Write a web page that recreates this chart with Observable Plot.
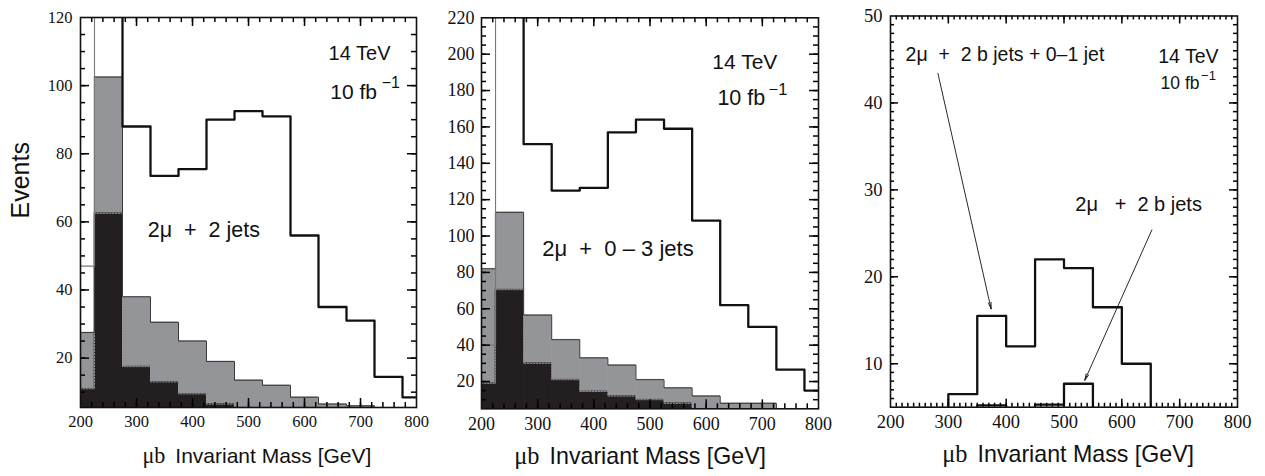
<!DOCTYPE html>
<html><head><meta charset="utf-8">
<script src="https://cdn.jsdelivr.net/npm/d3@7"></script>
<script src="https://cdn.jsdelivr.net/npm/@observablehq/plot@0.6"></script>
<style>
body{margin:0;background:#fff;}
#wrap{position:relative;width:1265px;height:476px;overflow:hidden;background:#fff}
#wrap svg{position:absolute;top:0;overflow:visible}
</style></head><body><div id="wrap"></div>
<script>
// ---------- data ----------
const binEdges = [200,225,275,325,375,425,475,525,575,625,675,725,775,800];
// panel 1: 2mu + 2 jets
const p1Total = [47,140,88,73.5,75.5,90,92.5,91,56,35,31,14.5,8.5];
const p1Gray  = [27.5,102.5,38,30.5,25,19,13.5,12,8.5,6.5,6,0,0];
const p1Black = [11,62.5,17.5,13,9.5,6.5,0,0,0,0,0,0,0];
// panel 2: 2mu + 0-3 jets
const p2Total = [40,260,150.5,125,126.5,157,164,159,108.5,62,50,26.5,15];
const p2Gray  = [82,113,56.5,43,33,29,21,16.5,12,8,8,0,0];
const p2Black = [19,70.5,30,21,14.5,12,10,8,0,0,0,0,0];
// panel 3: b-jet selections
const bEdges = [250,300,350,400,450,500,550,600,650,700];
const p3A = [0,6.5,15.5,12,22,21,16.5,10,0];      // 2mu + 2 b jets + 0-1 jet
const p3B = [0,0,5.2,3,5.3,7.7,0,0,0];            // 2mu + 2 b jets
const xTickLabels = [200,300,400,500,600,700,800];
const p1YTicks = [20,40,60,80,100,120];
const p2YTicks = [20,40,60,80,100,120,140,160,180,200,220];
const p3YTicks = [10,20,30,40,50];
const p3Arrows = [
  {x1:282, y1:43.4, x2:374, y2:16.3},
  {x1:652, y1:25.4, x2:536, y2:8.1}
];

// ---------- helpers ----------
const GRAY = "#939598", BLACK = "#231f20";
const SANS = "Liberation Sans, Arial, sans-serif";
const SERIF = "Liberation Serif, Times New Roman, serif";
const NB = "\u00a0";

function steps(edges, vals) {
  const pts = vals.map((v, i) => ({x: edges[i], y: v}));
  pts.push({x: edges[vals.length], y: vals[vals.length - 1]});
  return pts;
}
function bins(edges, vals) {
  return vals.map((v, i) => ({x1: edges[i], x2: edges[i + 1], y: v}));
}
function histMarks(gray, black) {
  return [
    Plot.rectY(bins(binEdges, gray), {x1: "x1", x2: "x2", y: "y", fill: GRAY, stroke: GRAY, strokeWidth: 0.6, clip: true}),
    Plot.rectY(bins(binEdges, black), {x1: "x1", x2: "x2", y: "y", fill: BLACK, stroke: BLACK, strokeWidth: 0.6, clip: true}),
    Plot.line(steps(binEdges, black), {x: "x", y: "y", curve: "step-after", stroke: "#b0b0b0", strokeWidth: 0.8, strokeDasharray: "1.5,1.5", clip: true}),
    Plot.line(steps(binEdges, gray), {x: "x", y: "y", curve: "step-after", stroke: "#3a3a3a", strokeWidth: 1, clip: true})
  ];
}
function totalMarks(total) {
  const first = [{x: binEdges[0], y: total[0]}, {x: binEdges[1], y: total[0]}, {x: binEdges[1], y: total[1]}];
  const rest = steps(binEdges.slice(1), total.slice(1));
  return [
    Plot.line(first, {x: "x", y: "y", stroke: "#777", strokeWidth: 1.1, clip: true}),
    Plot.line(rest, {x: "x", y: "y", curve: "step-after", stroke: "#111", strokeWidth: 2.3, clip: true})
  ];
}
function xTitle(fs, shift) {
  return [
    Plot.text([0], {frameAnchor: "bottom", dy: 55, dx: shift - 0.42 * fs * 10 + 5, text: () => "μb", textAnchor: "end", fontFamily: SERIF, fontSize: fs * 1.05, fill: "#111"}),
    Plot.text([0], {frameAnchor: "bottom", dy: 55, dx: shift - 0.42 * fs * 10 + 15, text: () => "Invariant Mass [GeV]", textAnchor: "start", fontFamily: SANS, fontSize: fs, fill: "#111"})
  ];
}
// inward ticks on all four frame sides (lengths given in px, converted to data units)
function frameTicks(xd, yd, innerW, innerH, xMajor, xMinor, yMajor, yMinor, majLen, minLen) {
  const kx = (xd[1] - xd[0]) / innerW, ky = (yd[1] - yd[0]) / innerH;
  const st = {stroke: "#000", strokeWidth: 1.5};
  const m = [];
  for (const [vals, len] of [[xMajor, majLen], [xMinor, minLen]]) {
    const v = vals.filter(d => d > xd[0] && d < xd[1]);
    m.push(Plot.ruleX(v, {x: d => d, y1: yd[0], y2: yd[0] + len * ky, ...st}));
    m.push(Plot.ruleX(v, {x: d => d, y1: yd[1] - len * ky, y2: yd[1], ...st}));
  }
  for (const [vals, len] of [[yMajor, majLen], [yMinor, minLen]]) {
    const v = vals.filter(d => d > yd[0] && d < yd[1]);
    m.push(Plot.ruleY(v, {y: d => d, x1: xd[0], x2: xd[0] + len * kx, ...st}));
    m.push(Plot.ruleY(v, {y: d => d, x1: xd[1] - len * kx, x2: xd[1], ...st}));
  }
  return m;
}
function place(svg, left) {
  svg.style.left = left + "px";
  document.getElementById("wrap").appendChild(svg);
}

// ---------- panel 1 ----------
{
  const W = 430, H = 476, mL = 80, mR = 14, mT = 17, mB = 69;
  const xd = [200, 800], yd = [5.5, 120];
  const svg = Plot.plot({
    width: W, height: H, marginLeft: mL, marginRight: mR, marginTop: mT, marginBottom: mB,
    x: {domain: xd}, y: {domain: yd},
    style: {fontFamily: SANS, background: "white"},
    marks: [
      ...histMarks(p1Gray, p1Black),
      ...totalMarks(p1Total),
      ...frameTicks(xd, yd, W - mL - mR, H - mT - mB, xTickLabels, d3.range(200, 801, 20), p1YTicks, d3.range(10, 121, 5), 9, 5),
      Plot.frame({stroke: "#111", strokeWidth: 1.6}),
      Plot.axisX({ticks: xTickLabels, tickSize: 0, tickPadding: 8, label: null, fontFamily: SERIF, fontSize: 16.5, fill: "#111"}),
      Plot.axisY({ticks: p1YTicks, tickSize: 0, tickPadding: 8, label: null, fontFamily: SERIF, fontSize: 16.5, fill: "#111"}),
      Plot.text([0], {frameAnchor: "left", dx: -60, dy: 6, rotate: -90, textAnchor: "start", text: () => "Events", fontFamily: SANS, fontSize: 25, fill: "#111"}),
      Plot.text([0], {x: 643, y: 109.5, text: () => "14 TeV", textAnchor: "start", fontSize: 20, fill: "#111"}),
      Plot.text([0], {x: 646, y: 98, text: () => "10 fb", textAnchor: "start", fontSize: 21, fill: "#111"}),
      Plot.text([0], {x: 738, y: 100.7, text: () => "\u22121", textAnchor: "start", fontSize: 16, fill: "#111"}),
      Plot.text([0], {x: 320, y: 57.5, text: () => "2μ" + NB + NB + "+" + NB + NB + "2 jets", textAnchor: "start", fontSize: 21.5, fill: "#111"}),
      ...xTitle(21, 0)
    ]
  });
  place(svg, 0);
}

// ---------- panel 2 ----------
{
  const W = 400, H = 476, mL = 51, mR = 12, mT = 17.3, mB = 67.7;
  const xd = [200, 800], yd = [5, 220];
  const svg = Plot.plot({
    width: W, height: H, marginLeft: mL, marginRight: mR, marginTop: mT, marginBottom: mB,
    x: {domain: xd}, y: {domain: yd},
    style: {fontFamily: SANS, background: "white"},
    marks: [
      ...histMarks(p2Gray, p2Black),
      ...totalMarks(p2Total),
      ...frameTicks(xd, yd, W - mL - mR, H - mT - mB, xTickLabels, d3.range(200, 801, 20), p2YTicks, d3.range(10, 221, 5), 9, 5),
      Plot.frame({stroke: "#111", strokeWidth: 1.6}),
      Plot.axisX({ticks: xTickLabels, tickSize: 0, tickPadding: 8, label: null, fontFamily: SERIF, fontSize: 18, fill: "#111"}),
      Plot.axisY({ticks: p2YTicks, tickSize: 0, tickPadding: 7, label: null, fontFamily: SERIF, fontSize: 18, fill: "#111"}),
      Plot.text([0], {x: 611, y: 195.4, text: () => "14 TeV", textAnchor: "start", fontSize: 21, fill: "#111"}),
      Plot.text([0], {x: 620, y: 175.6, text: () => "10 fb", textAnchor: "start", fontSize: 21.5, fill: "#111"}),
      Plot.text([0], {x: 711, y: 180.5, text: () => "\u22121", textAnchor: "start", fontSize: 16.5, fill: "#111"}),
      Plot.text([0], {x: 308, y: 93, text: () => "2μ" + NB + NB + "+" + NB + NB + "0 \u2013 3 jets", textAnchor: "start", fontSize: 22, fill: "#111"}),
      ...xTitle(23.2, -18)
    ]
  });
  place(svg, 430);
}

// ---------- panel 3 ----------
{
  const W = 425, H = 476, mL = 50, mR = 28, mT = 15.5, mB = 69.3;
  const xd = [200, 800], yd = [5, 50];
  const svg = Plot.plot({
    width: W, height: H, marginLeft: mL, marginRight: mR, marginTop: mT, marginBottom: mB,
    x: {domain: xd}, y: {domain: yd},
    style: {fontFamily: SANS, background: "white"},
    marks: [
      Plot.line(steps(bEdges, p3B), {x: "x", y: "y", curve: "step-after", stroke: "#111", strokeWidth: 2.3, clip: true}),
      Plot.line(steps(bEdges, p3A), {x: "x", y: "y", curve: "step-after", stroke: "#111", strokeWidth: 2.3, clip: true}),
      Plot.arrow(p3Arrows, {x1: "x1", y1: "y1", x2: "x2", y2: "y2", stroke: "#111", strokeWidth: 0.9, headLength: 11, headAngle: 24}),
      ...frameTicks(xd, yd, W - mL - mR, H - mT - mB, xTickLabels, d3.range(200, 801, 10), p3YTicks, d3.range(5, 51, 1), 8, 4),
      Plot.frame({stroke: "#111", strokeWidth: 1.6}),
      Plot.axisX({ticks: xTickLabels, tickSize: 0, tickPadding: 8, label: null, fontFamily: SERIF, fontSize: 18.5, fill: "#111"}),
      Plot.axisY({ticks: p3YTicks, tickSize: 0, tickPadding: 8, label: null, fontFamily: SERIF, fontSize: 18.5, fill: "#111"}),
      Plot.text([0], {x: 226, y: 45.5, text: () => "2μ" + NB + NB + "+" + NB + NB + "2 b jets + 0\u20131 jet", textAnchor: "start", fontSize: 19.5, fill: "#111"}),
      Plot.text([0], {x: 663, y: 45.3, text: () => "14 TeV", textAnchor: "start", fontSize: 19.5, fill: "#111"}),
      Plot.text([0], {x: 667, y: 42.2, text: () => "10 fb", textAnchor: "start", fontSize: 17.5, fill: "#111"}),
      Plot.text([0], {x: 737, y: 43.1, text: () => "\u22121", textAnchor: "start", fontSize: 13, fill: "#111"}),
      Plot.text([0], {x: 519.6, y: 28.3, text: () => "2μ" + NB + NB + NB + "+" + NB + NB + "2 b jets", textAnchor: "start", fontSize: 20, fill: "#111"}),
      ...xTitle(23.2, -4)
    ]
  });
  place(svg, 840);
}
</script></body></html>
